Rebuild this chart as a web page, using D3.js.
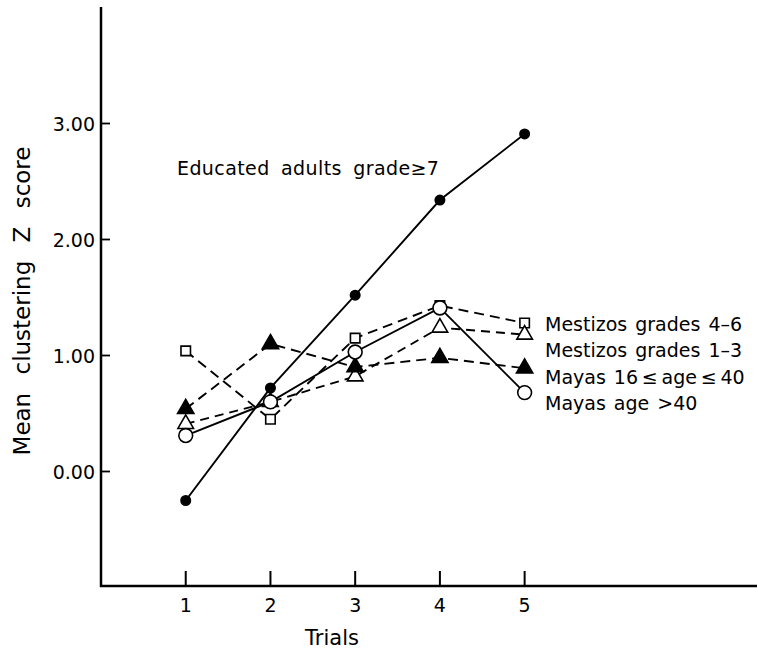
<!DOCTYPE html>
<html>
<head>
<meta charset="utf-8">
<script src="https://cdn.jsdelivr.net/npm/d3@7"></script>
<style>
  body { margin: 0; background: #fff; }
  svg { display: block; }
  text { font-family: "DejaVu Sans", sans-serif; fill: #000; }
</style>
</head>
<body>
<svg id="chart" width="757" height="654"></svg>
<script>
const trials = [1, 2, 3, 4, 5];
const yTicks = [0, 1, 2, 3];
const yTickLabels = ["0.00", "1.00", "2.00", "3.00"];

const educated   = [-0.25, 0.72, 1.52, 2.34, 2.91];
const mest46     = [1.04, 0.45, 1.15, 1.43, 1.28];
const mest13     = [0.41, 0.60, 0.82, 1.24, 1.18];
const maya1640   = [0.54, 1.10, 0.90, 0.98, 0.89];
const mayaOver40 = [0.31, 0.60, 1.03, 1.41, 0.68];

const seriesNames = ["Educated adults grade\u22657", "Mestizos grades 4\u20136", "Mestizos grades 1\u20133", "Mayas 16\u2009\u2264\u2009age\u2009\u2264\u200940", "Mayas age >40"];

const svg = d3.select("#chart");

const x = d3.scaleLinear().domain([0, 8.38]).range([101, 811]);
const y = d3.scaleLinear().domain([0, 3]).range([471.5, 123.5]);
const yBottom = 586, yTop = 7, xRight = 757, xLeft = 101;

// x axis ticks and labels
const gx = svg.append("g");
gx.selectAll("line").data(trials).join("line")
  .attr("x1", d => x(d)).attr("x2", d => x(d)).attr("y1", yBottom).attr("y2", yBottom - 15)
  .attr("stroke", "#000").attr("stroke-width", 2);
gx.selectAll("text").data(trials).join("text")
  .attr("x", d => x(d)).attr("y", 612).attr("text-anchor", "middle").attr("font-size", 19)
  .text(d3.format("d"));

// y axis ticks and labels
const gy = svg.append("g");
gy.selectAll("line").data(yTicks).join("line")
  .attr("x1", xLeft).attr("x2", xLeft + 9).attr("y1", d => y(d)).attr("y2", d => y(d))
  .attr("stroke", "#000").attr("stroke-width", 1.8);
gy.selectAll("text").data(yTicks).join("text")
  .attr("x", 95).attr("y", d => y(d) + 7).attr("text-anchor", "end").attr("font-size", 19)
  .text((d, i) => yTickLabels[i]);

svg.append("line").attr("x1", xLeft).attr("x2", xLeft).attr("y1", yTop).attr("y2", yBottom + 1)
  .attr("stroke", "#000").attr("stroke-width", 2.5);
svg.append("line").attr("x1", xLeft - 1).attr("x2", xRight).attr("y1", yBottom).attr("y2", yBottom)
  .attr("stroke", "#000").attr("stroke-width", 2.5);

// axis titles
svg.append("text").attr("transform", "translate(30,301) rotate(-90)").attr("text-anchor", "middle")
  .attr("font-size", 23).attr("word-spacing", 11).text("Mean clustering Z score");
svg.append("text").attr("x", 332).attr("y", 645).attr("text-anchor", "middle")
  .attr("font-size", 21).text("Trials");

const line = d3.line().x((d, i) => x(trials[i])).y(d => y(d));

function drawLine(vals, dash) {
  svg.append("path").datum(vals).attr("d", line).attr("fill", "none")
    .attr("stroke", "#000").attr("stroke-width", 1.9).attr("stroke-dasharray", dash);
}

drawLine(mest46, "10,6");
drawLine(mest13, "9,6");
drawLine(maya1640, "10,6");
drawLine(mayaOver40, null);
drawLine(educated, null);

const sym = (type, size) => d3.symbol().type(type).size(size);

function drawMarkers(vals, type, size, filled) {
  svg.append("g").selectAll("path").data(vals).join("path")
    .attr("transform", (d, i) => `translate(${x(trials[i])},${y(d)})`)
    .attr("d", sym(type, size)())
    .attr("fill", filled ? "#000" : "#fff")
    .attr("stroke", "#000").attr("stroke-width", 1.6);
}

drawMarkers(mest46, d3.symbolSquare, 90, false);
drawMarkers(mest13, d3.symbolTriangle, 105, false);
drawMarkers(maya1640, d3.symbolTriangle, 115, true);
drawMarkers(mayaOver40, d3.symbolCircle, 150, false);
drawMarkers(educated, d3.symbolCircle, 70, true);

// labels
svg.append("text").attr("x", 177).attr("y", 175).attr("font-size", 19)
  .attr("letter-spacing", 0.4).attr("word-spacing", 5).text(seriesNames[0]);
const labelY = [331, 357, 384, 410];
[1, 2, 3, 4].forEach((k, i) => {
  svg.append("text").attr("x", 545).attr("y", labelY[i]).attr("font-size", 19)
    .attr("word-spacing", 2).text(seriesNames[k]);
});
</script>
</body>
</html>
